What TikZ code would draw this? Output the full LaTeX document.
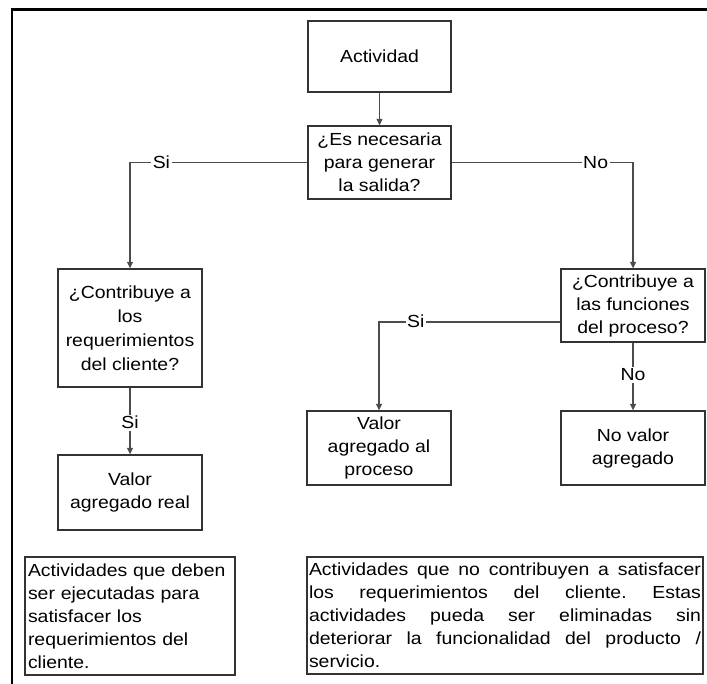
\documentclass[tikz,border=0pt]{standalone}
\usepackage{fontspec}
\setmainfont{Liberation Sans}[FakeStretch=1.11]
\usetikzlibrary{arrows.meta,calc}
\begin{document}
\begin{tikzpicture}[x=1pt,y=-1pt,
  every node/.style={font=\fontsize{17.5}{23}\selectfont},
  box/.style={draw=black!80, line width=1.3pt, align=center, inner sep=2pt,
    minimum width=144pt},
  conn/.style={draw=black!70, line width=1.3pt},
  arr/.style={conn, -{Triangle[length=6.5pt,width=6pt]}},
  lbl/.style={fill=white, inner sep=1.5pt, text height=12.5pt, text depth=1pt}]
  \useasboundingbox (0,0) rectangle (707,684);

  % outer frame (left and top edges)
  \draw[line width=2.5pt, black, line join=miter] (12.2,700) -- (12.2,9.3) -- (720,9.3);

  % process boxes
  \node[box, minimum width=143pt, minimum height=71pt] (act) at (379.5,56.5) {Actividad};
  \node[box, minimum width=143pt, minimum height=73pt] (dec1) at (379.5,162.5)
    {¿Es necesaria\\para generar\\la salida?};
  \node[box, minimum height=118pt] (decl) at (130,328)
    {¿Contribuye a\\[1pt]los\\[1pt]requerimientos\\[1pt]del cliente?};
  \node[box, minimum height=73pt] (decr) at (633,305.5)
    {¿Contribuye a\\las funciones\\del proceso?};
  \node[box, minimum height=75pt] (real) at (130,492.5) {Valor\\agregado real};
  \node[box, minimum height=74pt] (proc) at (379,448) {Valor\\agregado al\\proceso};
  \node[box, minimum height=74pt] (nova) at (633,448) {No valor\\agregado};

  % explanatory notes
  \node[box, minimum width=210pt, minimum height=118pt, text width=204pt,
    align=left, inner sep=3pt] (txtl) at (130,616)
    {Actividades que deben\\ser ejecutadas para\\satisfacer los\\requerimientos del\\cliente.};
  \node[box, minimum width=396pt, minimum height=117pt, text width=392pt,
    align=justify, inner sep=2pt] (txtr) at (505,615.5)
    {\frenchspacing\tolerance=10000\relax\hbadness=10000\relax
     Actividades que no contribuyen a satisfacer\linebreak
     los requerimientos del cliente. Estas\linebreak
     actividades pueda ser eliminadas sin\linebreak
     deteriorar la funcionalidad del producto /\linebreak
     servicio.};

  % connectors
  \draw[arr] (act) -- (dec1);
  \draw[arr] (dec1.west) -- node[lbl, pos=0.823] {Si} (dec1.west -| decl.north) -- (decl.north);
  \draw[arr] (dec1.east) -- node[lbl, pos=0.794] {No} (dec1.east -| decr.north) -- (decr.north);
  \coordinate (decrout) at ([yshift=-16.5pt]decr.west);
  \draw[arr] (decrout) -- node[lbl, pos=0.797] {Si} (decrout -| proc.north) -- (proc.north);
  \draw[arr] (decl) -- node[lbl, pos=0.53] {Si} (real);
  \draw[arr] (decr) -- node[lbl, pos=0.478] {No} (nova);
\end{tikzpicture}
\end{document}
